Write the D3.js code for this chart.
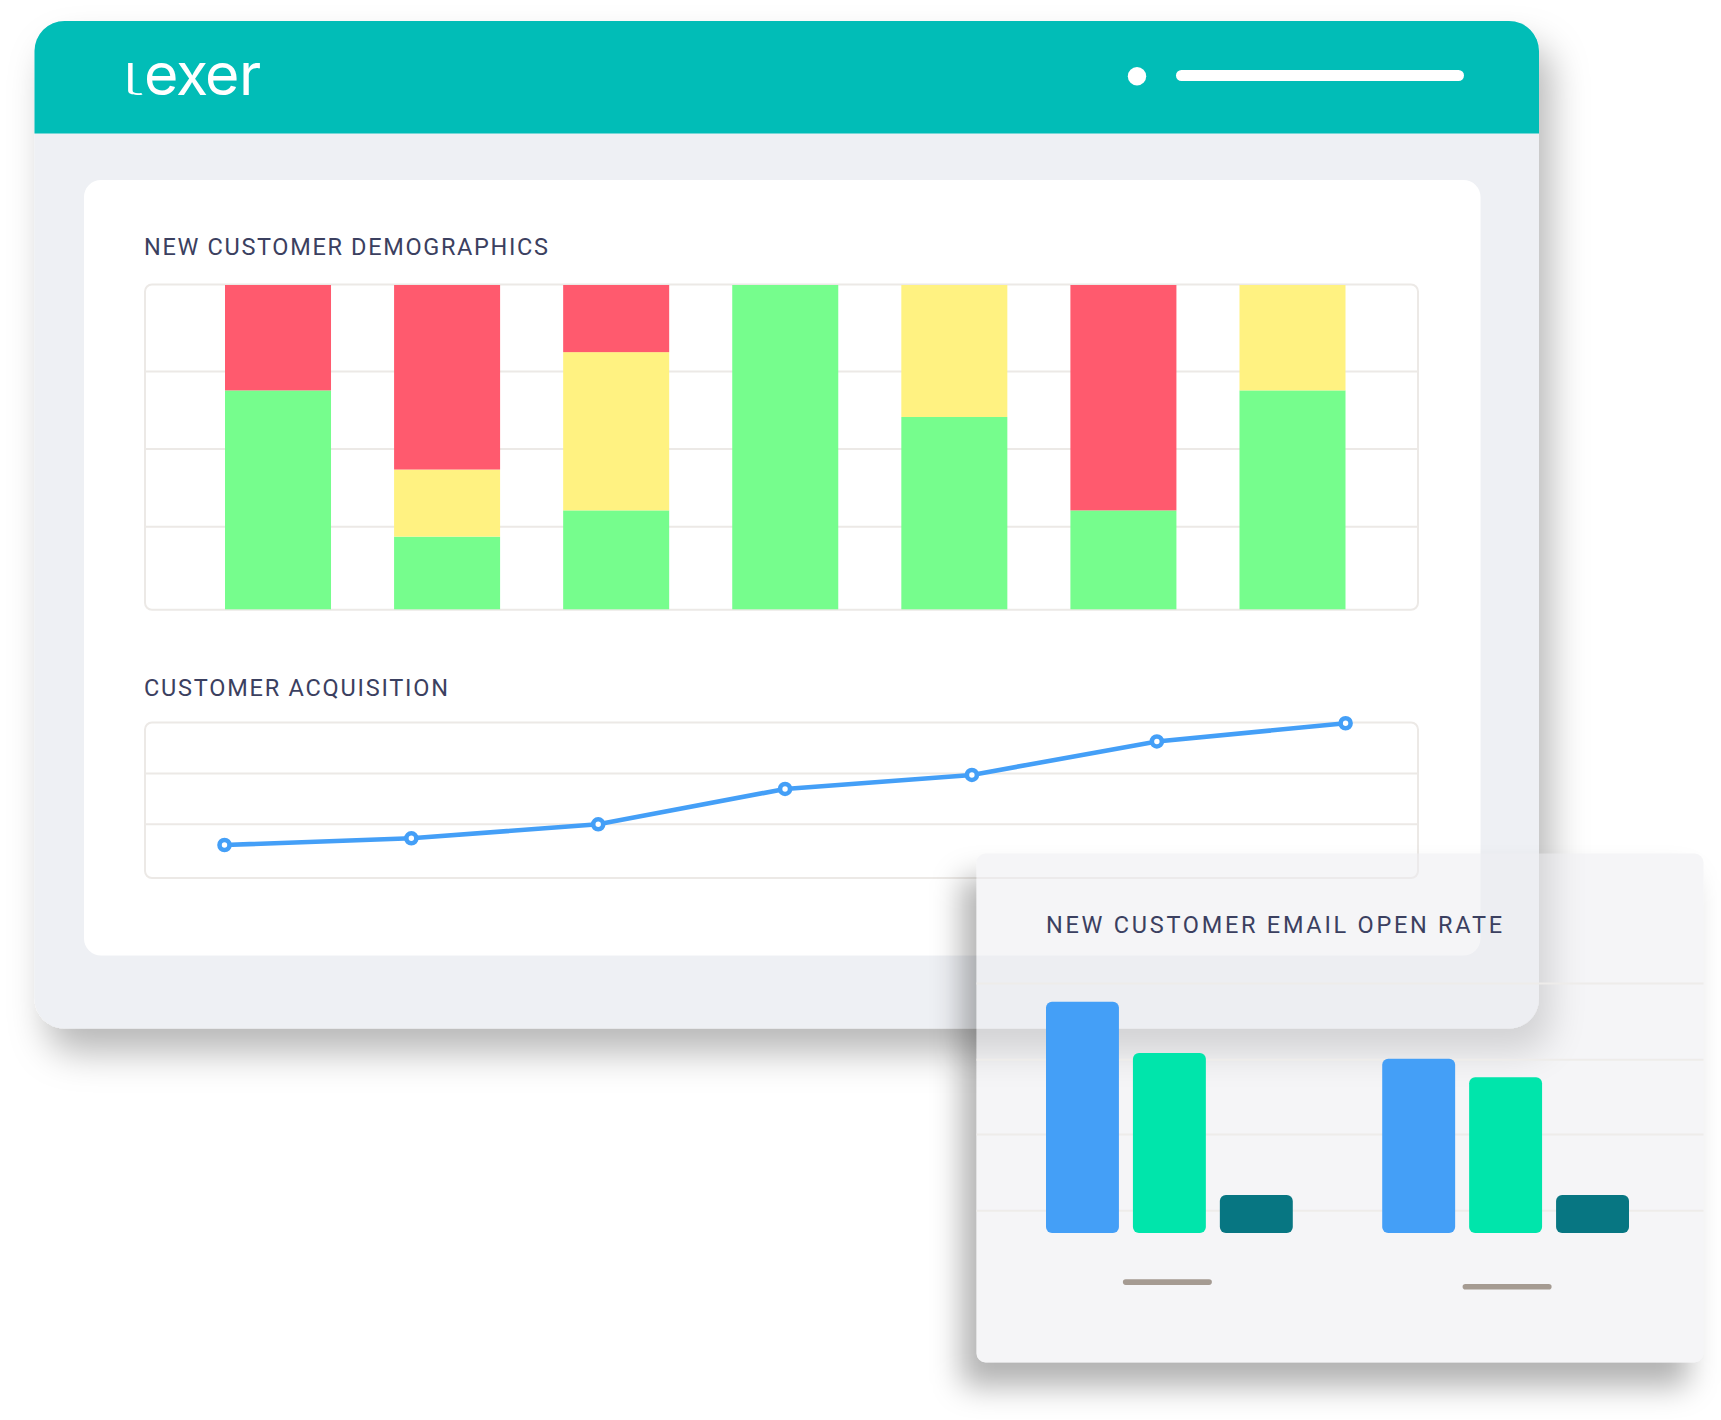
<!DOCTYPE html>
<html>
<head>
<meta charset="utf-8">
<title>Lexer dashboard</title>
<script src="https://cdn.jsdelivr.net/npm/d3@7"></script>
<style>
  html, body { margin: 0; background: #fff; }
  svg { display: block; }
  .title { font-family: Roboto, sans-serif; font-size: 23.5px; fill: #3b4060; }
</style>
</head>
<body>
<svg id="chart" width="1721" height="1420"></svg>
<script>
// stacked bars, share of each bar in percent
const demoCategories = ['a', 'b', 'c', 'd', 'e', 'f', 'g']
const demoGreen  = [67.5, 22.4, 30.5, 100, 59.3, 30.5, 67.5]
const demoYellow = [0, 20.7, 48.8, 0, 40.7, 0, 32.5]
const demoRed    = [32.5, 56.9, 20.7, 0, 0, 69.5, 0]
const demoTicks  = [25.6, 49.6, 73.5]

// line chart
const acqPeriods = [0, 1, 2, 3, 4, 4.99, 6]
const acqValues = [21, 25.3, 34.3, 57, 66, 87.5, 99.2]
const acqTicks  = [34.7, 67.2]

// grouped bars
const rateGroups = ['one', 'two']
const rateSeries = ['blue', 'green', 'teal']
const rateBlue  = [100, 75.3]
const rateGreen = [77.8, 67.3]
const rateTeal  = [16.4, 16.4]
const rateTicks = [9.8, 42.8, 75.1, 108.1]

const grid = '#ece9e6'
const svg = d3.select('#chart')

// shadows
const defs = svg.append('defs')
defs.append('filter').attr('id', 'windowShadow')
  .attr('x', '-10%').attr('y', '-10%').attr('width', '120%').attr('height', '125%')
  .append('feDropShadow')
  .attr('dx', 12).attr('dy', 24).attr('stdDeviation', 18)
  .attr('flood-color', '#000').attr('flood-opacity', 0.28)
defs.append('filter').attr('id', 'cardShadow')
  .attr('x', '-15%').attr('y', '-15%').attr('width', '130%').attr('height', '130%')
  .append('feGaussianBlur').attr('stdDeviation', 15)

// the card is see-through, so its shadow must not show inside it
const cardX = 976.5, cardY = 853.5, cardW = 727, cardH = 509, cardR = 9
const cardPath = d3.path()
cardPath.moveTo(cardX + cardR, cardY)
cardPath.arcTo(cardX + cardW, cardY, cardX + cardW, cardY + cardH, cardR)
cardPath.arcTo(cardX + cardW, cardY + cardH, cardX, cardY + cardH, cardR)
cardPath.arcTo(cardX, cardY + cardH, cardX, cardY, cardR)
cardPath.arcTo(cardX, cardY, cardX + cardW, cardY, cardR)
cardPath.closePath()
defs.append('clipPath').attr('id', 'outsideCard')
  .append('path')
  .attr('clip-rule', 'evenodd')
  .attr('d', 'M0,0H1721V1420H0Z' + cardPath.toString())

let drawWindow = () => {
  svg.append('rect')
    .attr('x', 34.5).attr('y', 21).attr('width', 1504.5).attr('height', 1007.5)
    .attr('rx', 30)
    .attr('fill', '#eef0f4')
    .attr('filter', 'url(#windowShadow)')

  const head = d3.path()
  head.moveTo(34.5, 133.5)
  head.lineTo(34.5, 51)
  head.arcTo(34.5, 21, 64.5, 21, 30)
  head.lineTo(1509, 21)
  head.arcTo(1539, 21, 1539, 51, 30)
  head.lineTo(1539, 133.5)
  head.closePath()
  svg.append('path').attr('d', head.toString()).attr('fill', '#01bdb7')

  // logo, the l is stretched to get its wide tail
  svg.append('text')
    .attr('transform', 'translate(119,95) scale(2.3,1)')
    .attr('fill', '#fff')
    .attr('font-family', 'Inter, sans-serif')
    .attr('font-weight', 200)
    .attr('font-size', 44)
    .style('font-feature-settings', '"cv05"')
    .text('l')
  const logo = svg.append('text')
    .attr('y', 95)
    .attr('fill', '#fff')
    .attr('font-family', 'Inter, sans-serif')
    .attr('font-weight', 400)
    .attr('font-size', 59)
  logo.append('tspan').attr('x', 144).text('e')
  logo.append('tspan').attr('x', 176).text('x')
  logo.append('tspan').attr('x', 205).text('e')
  logo.append('tspan').attr('x', 239).text('r')

  svg.append('circle').attr('cx', 1137).attr('cy', 76.3).attr('r', 9.2).attr('fill', '#fff')
  svg.append('rect')
    .attr('x', 1176).attr('y', 70).attr('width', 288).attr('height', 11).attr('rx', 5.5)
    .attr('fill', '#fff')

  svg.append('rect')
    .attr('x', 84).attr('y', 180).attr('width', 1396.5).attr('height', 775.5).attr('rx', 17)
    .attr('fill', '#fff')
}

let drawTitle = (label, x, y, len) => {
  svg.append('text').attr('class', 'title')
    .attr('x', x).attr('y', y)
    .attr('textLength', len).attr('lengthAdjust', 'spacing')
    .text(label)
}

// left axis with the labels taken off, only its lines are left as grid
let drawGrid = (scale, ticks, x0, x1, colour) => {
  const g = svg.append('g')
    .attr('transform', 'translate(' + x0 + ',0)')
    .call(d3.axisLeft(scale).tickValues(ticks).tickSize(x0 - x1).tickFormat(''))
  g.select('.domain').remove()
  g.selectAll('.tick line').attr('stroke', colour).attr('stroke-width', 2)
}

let drawBox = (y, h) => {
  svg.append('rect')
    .attr('x', 145).attr('y', y).attr('width', 1273).attr('height', h).attr('rx', 7)
    .attr('fill', 'none').attr('stroke', grid).attr('stroke-width', 2)
}

let drawDemographics = () => {
  drawTitle('NEW CUSTOMER DEMOGRAPHICS', 144, 255, 404)

  const x = d3.scaleBand().domain(demoCategories).range([225, 1345.5]).paddingInner(0.373)
  const y = d3.scaleLinear().domain([0, 100]).range([609.3, 285])

  drawGrid(y, demoTicks, 146, 1417, grid)
  drawBox(284.5, 325.3)

  const table = demoCategories.map((c, i) => ({
    category: c, green: demoGreen[i], yellow: demoYellow[i], red: demoRed[i]
  }))
  const colours = { green: '#76fd8d', yellow: '#fff281', red: '#ff5a6e' }
  const stack = d3.stack().keys(['green', 'yellow', 'red'])(table)

  svg.append('g').selectAll('g')
    .data(stack)
    .enter()
    .append('g')
    .attr('fill', (s) => colours[s.key])
    .selectAll('rect')
    .data((s) => s)
    .enter()
    .append('rect')
    .attr('x', (d) => x(d.data.category))
    .attr('width', x.bandwidth())
    .attr('y', (d) => y(d[1]))
    .attr('height', (d) => y(d[0]) - y(d[1]))
}

let drawAcquisition = () => {
  drawTitle('CUSTOMER ACQUISITION', 144, 696, 304)

  const x = d3.scaleLinear().domain([0, 6]).range([224.5, 1345.6])
  const y = d3.scaleLinear().domain([0, 100]).range([877.7, 722])

  drawGrid(y, acqTicks, 146, 1417, grid)
  drawBox(722.5, 155.5)

  const line = d3.line()
    .x((d, i) => x(acqPeriods[i]))
    .y((d) => y(d))

  svg.append('path')
    .attr('d', line(acqValues))
    .attr('fill', 'none')
    .attr('stroke', '#449ff7')
    .attr('stroke-width', 4.6)

  svg.append('g').selectAll('circle')
    .data(acqValues)
    .enter()
    .append('circle')
    .attr('cx', (d, i) => x(acqPeriods[i]))
    .attr('cy', (d) => y(d))
    .attr('r', 5)
    .attr('fill', '#fff')
    .attr('stroke', '#449ff7')
    .attr('stroke-width', 4.6)
}

let drawCard = () => {
  svg.append('g').attr('clip-path', 'url(#outsideCard)')
    .append('path')
    .attr('d', cardPath.toString())
    .attr('transform', 'translate(-15,24)')
    .attr('fill', '#000')
    .attr('fill-opacity', 0.3)
    .attr('filter', 'url(#cardShadow)')

  svg.append('path')
    .attr('d', cardPath.toString())
    .attr('fill', 'rgb(235,236,240)')
    .attr('fill-opacity', 0.5)
}

let drawOpenRate = () => {
  drawTitle('NEW CUSTOMER EMAIL OPEN RATE', 1046, 933, 456)

  const x0 = d3.scaleBand().domain(rateGroups).range([1046, 1629]).paddingInner(0.266)
  const x1 = d3.scaleBand().domain(rateSeries).range([0, x0.bandwidth()]).paddingInner(0.161)
  const y = d3.scaleLinear().domain([0, 108.1]).range([1233, 983])

  drawGrid(y, rateTicks, cardX, cardX + cardW, '#eeecea')

  const values = { blue: rateBlue, green: rateGreen, teal: rateTeal }
  const colours = { blue: '#449ff7', green: '#00e5ab', teal: '#077682' }

  svg.append('g').selectAll('g')
    .data(rateGroups)
    .enter()
    .append('g')
    .attr('transform', (g) => 'translate(' + x0(g) + ',0)')
    .selectAll('rect')
    .data((g, i) => rateSeries.map((s) => ({ series: s, value: values[s][i] })))
    .enter()
    .append('rect')
    .attr('x', (d) => x1(d.series))
    .attr('width', x1.bandwidth())
    .attr('y', (d) => y(d.value))
    .attr('height', (d) => y(0) - y(d.value))
    .attr('rx', 6)
    .attr('fill', (d) => colours[d.series])

  // grey dashes where the group labels would sit
  svg.append('g').selectAll('rect')
    .data(rateGroups)
    .enter()
    .append('rect')
    .attr('x', (g, i) => x0(g) + x0.bandwidth() / 2 - 44.5 + (i === 0 ? -2 : 1.5))
    .attr('y', (g, i) => (i === 0 ? 1279.3 : 1284))
    .attr('width', 89)
    .attr('height', 5.6)
    .attr('rx', 2.8)
    .attr('fill', '#a59b92')
}

drawWindow()
drawDemographics()
drawAcquisition()
drawCard()
drawOpenRate()
</script>
</body>
</html>
